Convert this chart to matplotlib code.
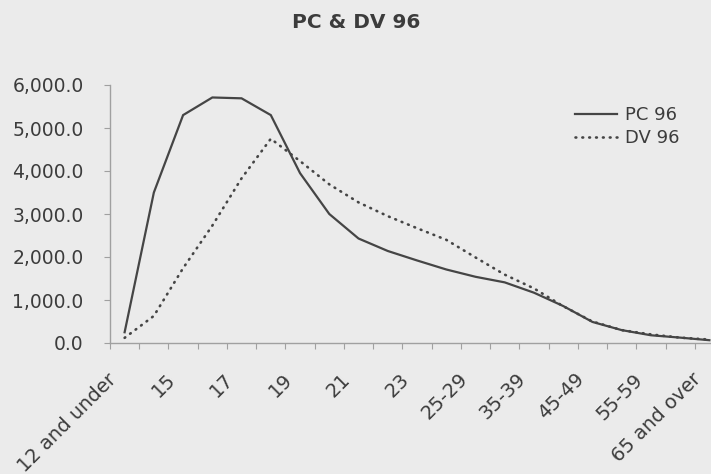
import matplotlib
matplotlib.use("Agg")
import matplotlib.pyplot as plt
from matplotlib.ticker import FuncFormatter, FixedLocator
from matplotlib.transforms import ScaledTranslation

categories = ["12 and under", "13-14", "15", "16", "17", "18", "19", "20", "21", "22",
              "23", "24", "25-29", "30-34", "35-39", "40-44", "45-49", "50-54",
              "55-59", "60-64", "65 and over"]
pc96 = [250, 3500, 5300, 5710, 5690, 5300, 3950, 3000, 2430, 2140, 1920, 1710,
        1540, 1410, 1170, 860, 490, 300, 180, 125, 65]
dv96 = [120, 630, 1740, 2730, 3830, 4750, 4230, 3690, 3270, 2950, 2670, 2400,
        1990, 1590, 1270, 855, 500, 300, 200, 125, 80]
yticks = [0, 1000, 2000, 3000, 4000, 5000, 6000]

bg = "#ebebeb"
txt = "#3c3c3c"
linec = "#454545"
axc = "#a0a0a0"

plt.rcParams['font.family'] = ['DejaVu Sans']

fig = plt.figure(figsize=(7.11, 4.74), dpi=100, facecolor=bg)
ax = fig.add_axes([110/711, 1-343/474, 614/711, (343-85)/474])
ax.set_facecolor(bg)

x = list(range(len(categories)))
ax.plot(x, pc96, color=linec, lw=1.6, label="PC 96", solid_joinstyle='miter')
ax.plot(x, dv96, color=linec, lw=1.9, linestyle=(0, (0.3, 2.3)),
        dash_capstyle='round', label="DV 96")

ax.set_xlim(-0.5, len(categories) - 0.5)
ax.set_ylim(0, 6000)

for s in ['top', 'right']:
    ax.spines[s].set_visible(False)
for s in ['left', 'bottom']:
    ax.spines[s].set_color(axc)
    ax.spines[s].set_linewidth(1.0)

ax.set_yticks(yticks)
ax.yaxis.set_major_formatter(FuncFormatter(lambda v, p: f"{v:,.1f}"))
ax.tick_params(axis='y', length=4, color=axc, pad=15, labelsize=13.5, labelcolor=txt)

ax.xaxis.set_major_locator(FixedLocator([i - 0.5 for i in range(len(categories) + 1)]))
ax.xaxis.set_major_formatter(FuncFormatter(lambda v, p: ""))
ax.xaxis.set_minor_locator(FixedLocator(x[::2]))
ax.set_xticklabels(categories[::2], minor=True)
ax.tick_params(axis='x', which='major', length=4, color=axc, direction='out')
ax.tick_params(axis='x', which='minor', length=0, pad=24, labelsize=14, labelcolor=txt)
offset = ScaledTranslation(-11/100, 0, fig.dpi_scale_trans)
for lab in ax.get_xticklabels(minor=True):
    lab.set_rotation(45)
    lab.set_rotation_mode('anchor')
    lab.set_ha('right')
    lab.set_va('center')
    lab.set_transform(lab.get_transform() + offset)

fig.text(356/711, 1-23/474, "PC & DV 96", ha='center', va='center',
         fontsize=14.5, fontweight='bold', color=txt)

leg = ax.legend(loc='upper left', bbox_to_anchor=(575/711, 1-106/474),
                bbox_transform=fig.transFigure, frameon=False, fontsize=13,
                handlelength=2.3, handletextpad=0.45, labelspacing=0.3,
                borderaxespad=0, borderpad=0)
for t in leg.get_texts():
    t.set_color(txt)

fig.savefig("out.png", dpi=100, facecolor=bg)
